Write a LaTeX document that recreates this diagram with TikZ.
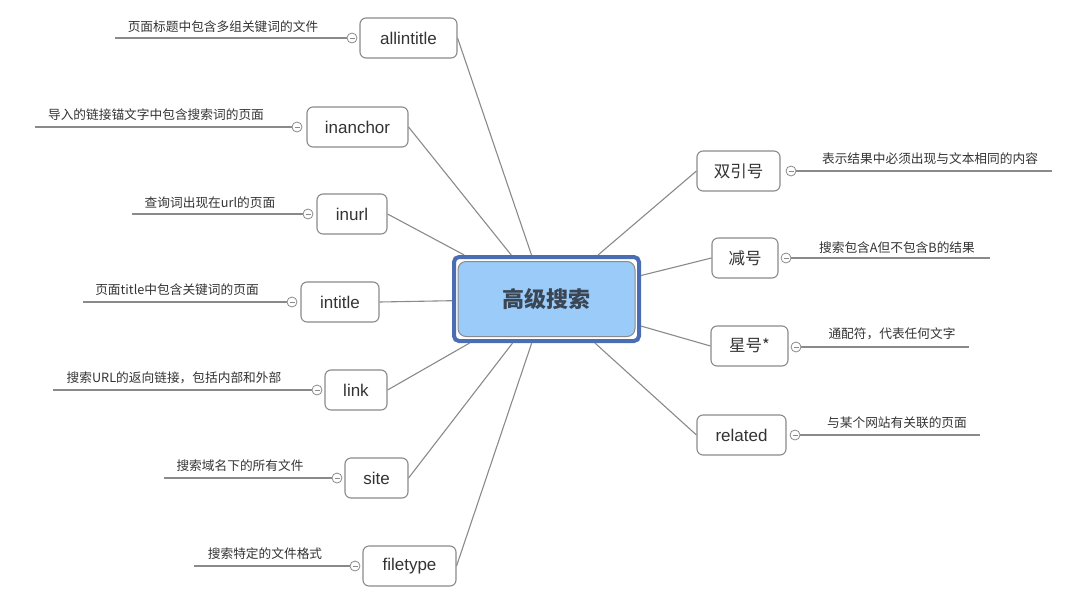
\documentclass[tikz,border=0pt]{standalone}
\usepackage{fontspec}
\setmainfont{Noto Sans CJK SC}
\newfontfamily\latfont{Liberation Sans}
\usetikzlibrary{positioning}
\definecolor{framebl}{HTML}{4A6DB4}
\definecolor{fillbl}{HTML}{9ACBF9}
\definecolor{txt}{HTML}{333333}
\definecolor{ctxt}{HTML}{3A4654}
\definecolor{ln}{HTML}{8A8A8A}
\tikzset{
  topic/.style={draw=ln, line width=1.1pt, rounded corners=6pt, fill=white, minimum height=40, inner sep=0pt, text=txt, font=\fontsize{16.5}{18}\selectfont},
  topicen/.style={topic, font=\latfont\fontsize{17}{18}\selectfont},
  fold/.style={circle, draw=ln, line width=0.8pt, fill=white, minimum size=10, inner sep=0pt,
    path picture={\draw[ln, line width=0.5pt] ([xshift=-2.5pt]path picture bounding box.center) -- ([xshift=2.5pt]path picture bounding box.center);}},
  note/.style={text=txt, font=\fontsize{12.7}{14}\selectfont, inner sep=0pt},
  branch/.style={ln, line width=1.1pt},
  tail/.style={ln, line width=1.1pt}
}

\begin{document}
\begin{tikzpicture}[x=1pt,y=-1pt]
\useasboundingbox (0,0) rectangle (1080,606);

%centre
\node[draw=framebl, line width=4pt, rounded corners=5pt, minimum width=185, minimum height=84] (cf) at (546.5,299) {};
\node[draw=ln, fill=fillbl, line width=1pt, rounded corners=8pt, minimum width=177, minimum height=75, text=ctxt, font=\fontsize{22}{24}\selectfont\bfseries] (c) at (cf) {高级搜索};

%left - topics
\node[topicen, minimum width=97]  (allintitle) at (408.5,38)  {allintitle};
\node[topicen, minimum width=101] (inanchor)   at (357.5,127) {inanchor};
\node[topicen, minimum width=70]  (inurl)      at (352,214)   {inurl};
\node[topicen, minimum width=78]  (intitle)    at (340,302)   {intitle};
\node[topicen, minimum width=62]  (link)       at (356,390)   {link};
\node[topicen, minimum width=63]  (site)       at (376.5,478) {site};
\node[topicen, minimum width=93]  (filetype)   at (409.5,566) {filetype};
%right - topics
\node[topic, minimum width=83]    (quote)      at (738.5,171) {双引号};
\node[topic, minimum width=66]    (minus)      at (745,258)   {减号};
\node[topic, minimum width=77]    (star)       at (749.5,346) {星号*};
\node[topicen, minimum width=89]  (related)    at (741.5,435) {related};

%centre - branches
\draw[branch] (cf) -- (allintitle.east);	%c--allintitle
\draw[branch] (cf) -- (inanchor.east);		%c--inanchor
\draw[branch] (cf) -- (inurl.east);			%c--inurl
\draw[branch] (cf) -- (intitle.east);		%c--intitle
\draw[branch] (cf) -- (link.east);			%c--link
\draw[branch] (cf) -- (site.east);			%c--site
\draw[branch] (cf) -- (filetype.east);		%c--filetype
%
\draw[branch] (cf) -- (quote.west);			%c--quote
\draw[branch] (cf) -- (minus.west);			%c--minus
\draw[branch] (cf) -- (star.west);			%c--star
\draw[branch] (cf) -- (related.west);		%c--related

%left - folds and tails
\node[fold] (allintitle-f) at (352,38)  {};
\node[fold] (inanchor-f)   at (297,127) {};
\node[fold] (inurl-f)      at (308,214) {};
\node[fold] (intitle-f)    at (292,302) {};
\node[fold] (link-f)       at (317,390) {};
\node[fold] (site-f)       at (337,478) {};
\node[fold] (filetype-f)   at (355,566) {};
%
\coordinate (allintitle-e) at (115,38);
\coordinate (inanchor-e)   at (35,127);
\coordinate (inurl-e)      at (132,214);
\coordinate (intitle-e)    at (83,302);
\coordinate (link-e)       at (53,390);
\coordinate (site-e)       at (164,478);
\coordinate (filetype-e)   at (194,566);
%
\draw[tail] (allintitle-e) -- (allintitle-f);
\draw[tail] (inanchor-e)   -- (inanchor-f);
\draw[tail] (inurl-e)      -- (inurl-f);
\draw[tail] (intitle-e)    -- (intitle-f);
\draw[tail] (link-e)       -- (link-f);
\draw[tail] (site-e)       -- (site-f);
\draw[tail] (filetype-e)   -- (filetype-f);

%right - folds and tails
\node[fold] (quote-f)   at (791,171) {};
\node[fold] (minus-f)   at (786,258) {};
\node[fold] (star-f)    at (796,347) {};
\node[fold] (related-f) at (795,435) {};
%
\coordinate (quote-e)   at (1052,171);
\coordinate (minus-e)   at (990,258);
\coordinate (star-e)    at (969,347);
\coordinate (related-e) at (980,435);
%
\draw[tail] (quote-f)   -- (quote-e);
\draw[tail] (minus-f)   -- (minus-e);
\draw[tail] (star-f)    -- (star-e);
\draw[tail] (related-f) -- (related-e);

%notes
\node[note] (allintitle-n) at (223,27)  {页面标题中包含多组关键词的文件};
\node[note] (inanchor-n)   at (156,115) {导入的链接锚文字中包含搜索词的页面};
\node[note] (inurl-n)      at (210,203) {查询词出现在url的页面};
\node[note] (intitle-n)    at (177,290) {页面title中包含关键词的页面};
\node[note] (link-n)       at (174,378) {搜索URL的返向链接，包括内部和外部};
\node[note] (site-n)       at (240,466) {搜索域名下的所有文件};
\node[note] (filetype-n)   at (265,554) {搜索特定的文件格式};
%
\node[note] (quote-n)   at (930,159) {表示结果中必须出现与文本相同的内容};
\node[note] (minus-n)   at (897,248) {搜索包含A但不包含B的结果};
\node[note] (star-n)    at (892,334) {通配符，代表任何文字};
\node[note] (related-n) at (897,423) {与某个网站有关联的页面};
\end{tikzpicture}
\end{document}
